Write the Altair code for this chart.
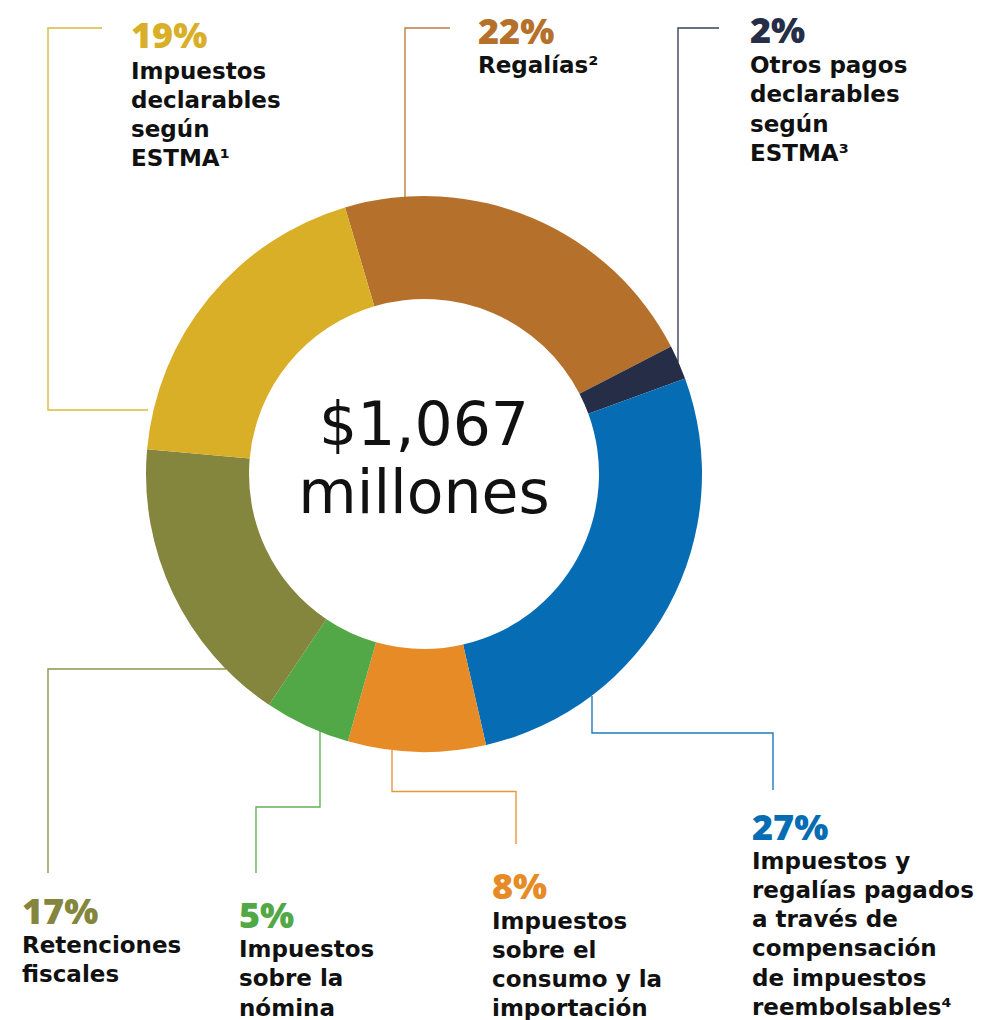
import math
import altair as alt
import pandas as pd

# ---- data ----
categories = ["Regalías", "Otros pagos", "Compensación", "Consumo", "Nómina", "Retenciones", "ESTMA"]
shares = [22, 2, 27, 8, 5, 17, 19]
pct_labels = ["22%", "2%", "27%", "8%", "5%", "17%", "19%"]
label_lines = [
    ["Regalías²"],
    ["Otros pagos", "declarables", "según", "ESTMA³"],
    ["Impuestos y", "regalías pagados", "a través de", "compensación", "de impuestos", "reembolsables⁴"],
    ["Impuestos", "sobre el", "consumo y la", "importación"],
    ["Impuestos", "sobre la", "nómina"],
    ["Retenciones", "fiscales"],
    ["Impuestos", "declarables", "según", "ESTMA¹"],
]
center_lines = ["$1,067", "millones"]

# ---- styles / layout (page pixels) ----
colors = ["#B5712B", "#252E46", "#066CB3", "#E68B26", "#52A747", "#83863C", "#D9AF28"]
MARGIN = 8
W, H = 968, 1012
CX, CY = 424, 474
R_OUT, R_IN = 278, 175
START = math.radians(-16.5)

# label block anchors: x, percent baseline, first text baseline
label_pos = [
    (478, 43.5, 72.5),
    (750, 43, 73),
    (752, 839.5, 868.5),
    (492, 898.5, 928.5),
    (239, 927.5, 957),
    (22, 923.5, 953),
    (131, 48, 78.5),
]
LINE_STEP = 29.3

# leader polylines
leaders = [
    [(450, 28), (405, 28), (405, 200)],
    [(719, 28), (678, 28), (678, 362)],
    [(592, 696), (592, 733), (773, 733), (773, 790)],
    [(392, 750), (392, 791.5), (516, 791.5), (516, 844)],
    [(320, 731), (320, 807), (256, 807), (256, 873)],
    [(226, 669), (48, 669), (48, 873)],
    [(102, 28), (48, 28), (48, 410), (148, 410)],
]

color_scale = alt.Scale(domain=categories, range=colors)

# ---- tables ----
donut_df = pd.DataFrame({"cat": categories, "value": shares, "ord": list(range(len(categories)))})

line_rows = []
for cat, pts in zip(categories, leaders):
    for i, (x, y) in enumerate(pts):
        line_rows.append({"cat": cat, "seq": i, "px": x - MARGIN, "py": y - MARGIN})
lines_df = pd.DataFrame(line_rows)

pct_df = pd.DataFrame({
    "cat": categories,
    "txt": pct_labels,
    "px": [p[0] - MARGIN for p in label_pos],
    "py": [p[1] - MARGIN for p in label_pos],
})

lab_rows = []
for cat, lines, pos in zip(categories, label_lines, label_pos):
    for i, t in enumerate(lines):
        lab_rows.append({"cat": cat, "txt": t, "px": pos[0] - MARGIN, "py": pos[2] + i * LINE_STEP - MARGIN})
lab_df = pd.DataFrame(lab_rows)

center_df = pd.DataFrame({"txt": center_lines, "px": [CX - MARGIN, CX - MARGIN], "py": [445 - MARGIN, 513 - MARGIN]})

# ---- layers ----
donut = alt.Chart(donut_df).mark_arc(innerRadius=R_IN, outerRadius=R_OUT).encode(
    theta=alt.Theta("value:Q", stack=True, scale=alt.Scale(range=[START, START + 2 * math.pi])),
    order=alt.Order("ord:Q"),
    color=alt.Color("cat:N", scale=color_scale, legend=None),
    x=alt.value(CX - MARGIN),
    y=alt.value(CY - MARGIN),
)

leader = alt.Chart(lines_df).mark_line(strokeWidth=1.4, opacity=0.9).encode(
    x=alt.X("px:Q", scale=None, axis=None),
    y=alt.Y("py:Q", scale=None, axis=None),
    detail="cat:N",
    order=alt.Order("seq:Q"),
    color=alt.Color("cat:N", scale=color_scale, legend=None),
)

pct = alt.Chart(pct_df).mark_text(
    align="left", baseline="alphabetic", font="Open Sans", fontWeight=800, fontSize=36
).encode(
    x=alt.X("px:Q", scale=None, axis=None),
    y=alt.Y("py:Q", scale=None, axis=None),
    text="txt:N",
    color=alt.Color("cat:N", scale=color_scale, legend=None),
)

labels = alt.Chart(lab_df).mark_text(
    align="left", baseline="alphabetic", font="DejaVu Sans", fontWeight="bold", fontSize=23, color="#111111"
).encode(
    x=alt.X("px:Q", scale=None, axis=None),
    y=alt.Y("py:Q", scale=None, axis=None),
    text="txt:N",
)

center = alt.Chart(center_df).mark_text(
    align="center", baseline="alphabetic", font="DejaVu Sans", fontSize=60, color="#111111"
).encode(
    x=alt.X("px:Q", scale=None, axis=None),
    y=alt.Y("py:Q", scale=None, axis=None),
    text="txt:N",
)

chart = alt.layer(donut, leader, pct, labels, center).properties(
    width=W, height=H, padding=0, autosize=alt.AutoSizeParams(type="none"), background="white"
).configure_view(stroke=None)

chart.save("out.html", embed_options={"renderer": "svg", "actions": False})
